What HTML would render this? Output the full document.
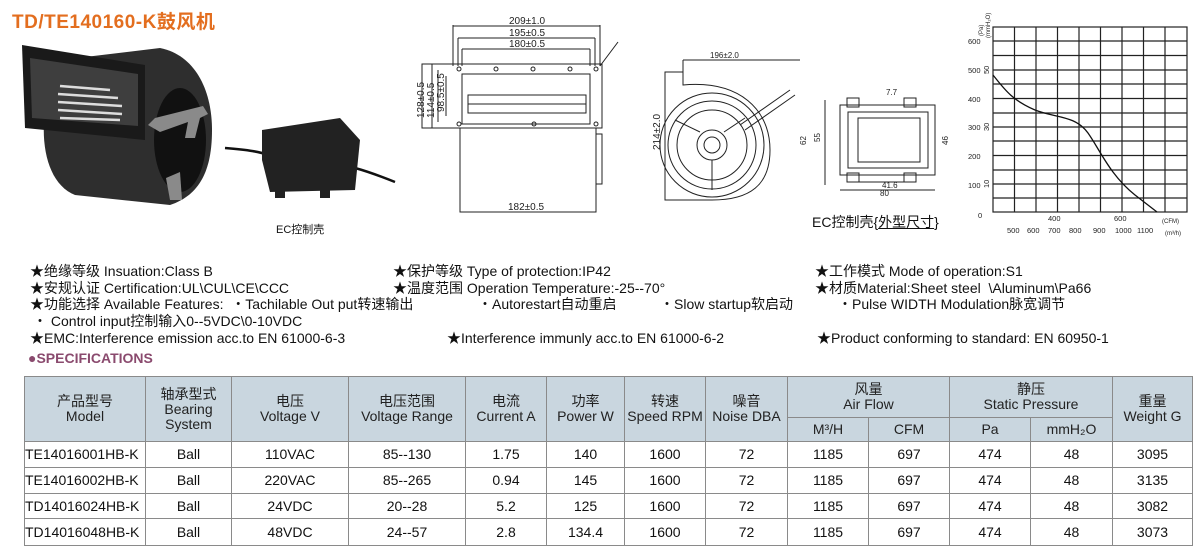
<!DOCTYPE html>
<html><head><meta charset="utf-8"><style>
body{margin:0;width:1199px;height:557px;background:#fff;position:relative;overflow:hidden;font-family:"Liberation Sans","Noto Sans CJK SC",sans-serif;color:#111}
.a{position:absolute;white-space:nowrap}
.t{font-size:14px;line-height:16px}
table{position:absolute;left:24px;top:376px;border-collapse:collapse;table-layout:fixed;font-size:14px}
td{border:1.5px solid #8a8a8a;text-align:center;padding:0;line-height:15px}
.h td{background:#c9d6df;color:#222}
</style></head><body>
<div class="a" style="left:12px;top:7px;font-size:19px;font-weight:bold;color:#e36e1f;letter-spacing:0.5px">TD/TE140160-K鼓风机</div>

<svg class="a" style="left:0;top:0" width="1199" height="250">
<!-- blower photo -->
<path d="M60 60 L160 48 C195 55 212 90 212 130 C212 170 200 195 170 205 L75 195 C50 185 40 150 45 110 Z" fill="#2e2e2e"/>
<path d="M22 45 L145 65 L145 140 L25 128 Z" fill="#1a1a1a"/>
<path d="M30 58 L138 74 L138 126 L32 118 Z" fill="#3e3e3e"/>
<g stroke="#ddd" stroke-width="2.5"><line x1="60" y1="86" x2="110" y2="90"/><line x1="58" y1="94" x2="118" y2="98"/><line x1="58" y1="102" x2="122" y2="106"/><line x1="58" y1="110" x2="122" y2="114"/><line x1="60" y1="118" x2="120" y2="120"/></g>
<ellipse cx="180" cy="140" rx="26" ry="52" fill="#111"/>
<path d="M148 125 L155 118 L203 106 L208 114 L200 118 L195 138 L185 138 L188 122 L160 132 Z" fill="#8a8a8a"/>
<path d="M166 178 L170 200 L182 200 L180 172 Z" fill="#8a8a8a"/>
<!-- controller -->
<path d="M225 148 C250 150 260 152 268 155" stroke="#111" stroke-width="2.5" fill="none"/>
<path d="M355 168 C370 172 385 178 395 182" stroke="#111" stroke-width="2.5" fill="none"/>
<path d="M262 130 L340 118 L360 140 L355 190 L270 192 L262 160 Z" fill="#222"/>
<rect x="275" y="188" width="10" height="10" fill="#222"/><rect x="320" y="188" width="10" height="10" fill="#222"/>
<!-- drawing 1 -->
<g stroke="#222" fill="none" stroke-width="1">
<rect x="422" y="64" width="180" height="64"/>
<rect x="460" y="128" width="136" height="84"/>
<line x1="453" y1="25" x2="453" y2="66"/><line x1="600" y1="25" x2="600" y2="66"/><line x1="453" y1="26" x2="600" y2="26"/>
<line x1="458" y1="38" x2="458" y2="66"/><line x1="595" y1="38" x2="595" y2="66"/><line x1="458" y1="38" x2="595" y2="38"/>
<line x1="462" y1="49" x2="462" y2="66"/><line x1="590" y1="49" x2="590" y2="66"/><line x1="462" y1="49" x2="590" y2="49"/>
<rect x="462" y="74" width="128" height="50"/>
<rect x="468" y="95" width="118" height="18"/><line x1="468" y1="104" x2="586" y2="104"/>
<line x1="432" y1="64" x2="432" y2="128"/><line x1="438" y1="70" x2="438" y2="122"/><line x1="446" y1="76" x2="446" y2="116"/>
<line x1="460" y1="212" x2="596" y2="212"/>
<line x1="600" y1="66" x2="618" y2="42"/>
<rect x="596" y="134" width="6" height="50"/>
<circle cx="459" cy="69" r="2"/><circle cx="496" cy="69" r="2"/><circle cx="533" cy="69" r="2"/><circle cx="570" cy="69" r="2"/><circle cx="596" cy="69" r="2"/>
<circle cx="459" cy="124" r="2"/><circle cx="534" cy="124" r="2"/><circle cx="596" cy="124" r="2"/>
<!-- drawing 2 -->
<path d="M665 72 L683 72 L683 85 C740 80 770 110 770 150 C770 185 750 200 712 200 L665 200 Z"/>
<line x1="683" y1="60" x2="800" y2="60"/><line x1="683" y1="60" x2="683" y2="72"/>
<circle cx="712" cy="145" r="52"/><circle cx="712" cy="145" r="44"/><circle cx="712" cy="145" r="35"/><circle cx="712" cy="145" r="15"/><circle cx="712" cy="145" r="8"/>
<path d="M740 125 L790 90 M745 130 L795 95"/>
<path d="M700 132 L675 120 M724 132 L745 118 M712 160 L712 190"/>
<rect x="840" y="105" width="95" height="70"/><rect x="848" y="112" width="80" height="56"/><rect x="858" y="118" width="62" height="44"/>
<line x1="825" y1="100" x2="825" y2="185"/><line x1="840" y1="190" x2="935" y2="190"/><line x1="848" y1="182" x2="905" y2="182"/>
<rect x="847" y="98" width="12" height="9"/><rect x="904" y="98" width="12" height="9"/><rect x="847" y="173" width="12" height="9"/><rect x="904" y="173" width="12" height="9"/>
</g>
<g font-size="10" fill="#222" font-family="Liberation Sans">
<text x="509" y="24">209±1.0</text><text x="509" y="36">195±0.5</text><text x="509" y="47">180±0.5</text>
<text x="508" y="210">182±0.5</text><text x="710" y="58" font-size="8">196±2.0</text>
<text x="886" y="95" font-size="8">7.7</text><text x="882" y="188" font-size="8">41.6</text><text x="880" y="196" font-size="8">80</text>
<text transform="translate(424,118) rotate(-90)">128±0.5</text><text transform="translate(434,118) rotate(-90)">114±0.5</text><text transform="translate(444,112) rotate(-90)">98.5±0.5</text>
<text transform="translate(660,150) rotate(-90)">214±2.0</text>
<text transform="translate(806,145) rotate(-90)" font-size="8">62</text><text transform="translate(820,142) rotate(-90)" font-size="8">55</text><text transform="translate(948,145) rotate(-90)" font-size="8">46</text>
</g>
<!-- chart -->
<g stroke="#222" stroke-width="1.2">
<rect x="993" y="27" width="194" height="185" fill="none"/>
<line x1="1014.5" y1="27" x2="1014.5" y2="212"/><line x1="1036" y1="27" x2="1036" y2="212"/><line x1="1057.5" y1="27" x2="1057.5" y2="212"/><line x1="1079" y1="27" x2="1079" y2="212"/><line x1="1100.5" y1="27" x2="1100.5" y2="212"/><line x1="1122" y1="27" x2="1122" y2="212"/><line x1="1143.5" y1="27" x2="1143.5" y2="212"/><line x1="1165" y1="27" x2="1165" y2="212"/>
<line x1="993" y1="41" x2="1187" y2="41"/><line x1="993" y1="55.5" x2="1187" y2="55.5"/><line x1="993" y1="70" x2="1187" y2="70"/><line x1="993" y1="84" x2="1187" y2="84"/><line x1="993" y1="98.5" x2="1187" y2="98.5"/><line x1="993" y1="113" x2="1187" y2="113"/><line x1="993" y1="127" x2="1187" y2="127"/><line x1="993" y1="141" x2="1187" y2="141"/><line x1="993" y1="155.5" x2="1187" y2="155.5"/><line x1="993" y1="170" x2="1187" y2="170"/><line x1="993" y1="184" x2="1187" y2="184"/><line x1="993" y1="198" x2="1187" y2="198"/>
</g>
<path d="M993 75 C1005 90 1012 100 1035 110 C1055 118 1075 115 1088 133 C1100 150 1110 175 1135 195 L1157 212" stroke="#111" stroke-width="1.3" fill="none"/>
<g font-size="7.5" fill="#222" font-family="Liberation Sans">
<text x="968" y="44">600</text><text x="968" y="73">500</text><text x="968" y="102">400</text><text x="968" y="130">300</text><text x="968" y="159">200</text><text x="968" y="188">100</text><text x="978" y="218">0</text>
<text x="1048" y="221">400</text><text x="1114" y="221">600</text><text x="1162" y="223" font-size="6">(CFM)</text>
<text x="1007" y="233">500</text><text x="1027" y="233">600</text><text x="1048" y="233">700</text><text x="1069" y="233">800</text><text x="1093" y="233">900</text><text x="1115" y="233">1000</text><text x="1137" y="233">1100</text><text x="1165" y="235" font-size="6">(m³/h)</text>
<text transform="translate(989,74) rotate(-90)">50</text><text transform="translate(989,131) rotate(-90)">30</text><text transform="translate(989,188) rotate(-90)">10</text>
<text transform="translate(983,36) rotate(-90)" font-size="6">(Pa)</text><text transform="translate(990,38) rotate(-90)" font-size="6">(mmH₂O)</text>
</g>
</svg>
<div class="a" style="left:276px;top:221px;font-size:11px">EC控制壳</div>
<div class="a" style="left:812px;top:212px;font-size:14px">EC控制壳{<u>外型尺寸</u>}</div>

<div class="a t" style="left:30px;top:263px">★绝缘等级 Insuation:Class B</div>
<div class="a t" style="left:393px;top:263px">★保护等级 Type of protection:IP42</div>
<div class="a t" style="left:815px;top:263px">★工作模式 Mode of operation:S1</div>
<div class="a t" style="left:30px;top:280px">★安规认证 Certification:UL\CUL\CE\CCC</div>
<div class="a t" style="left:393px;top:280px">★温度范围 Operation Temperature:-25--70°</div>
<div class="a t" style="left:815px;top:280px">★材质Material:Sheet steel &nbsp;\Aluminum\Pa66</div>
<div class="a t" style="left:30px;top:296px">★功能选择 Available Features: &nbsp;・Tachilable Out put转速输出</div>
<div class="a t" style="left:478px;top:296px">・Autorestart自动重启</div>
<div class="a t" style="left:660px;top:296px">・Slow startup软启动</div>
<div class="a t" style="left:838px;top:296px">・Pulse WIDTH Modulation脉宽调节</div>
<div class="a t" style="left:33px;top:313px">・ Control input控制输入0--5VDC\0-10VDC</div>
<div class="a t" style="left:30px;top:330px">★EMC:Interference emission acc.to EN 61000-6-3</div>
<div class="a t" style="left:447px;top:330px">★Interference immunly acc.to EN 61000-6-2</div>
<div class="a t" style="left:817px;top:330px">★Product conforming to standard: EN 60950-1</div>
<div class="a" style="left:28px;top:350px;font-size:14px;font-weight:bold;color:#8a4a6e">●SPECIFICATIONS</div>

<table>
<colgroup><col style="width:121px"><col style="width:86px"><col style="width:117px"><col style="width:117px"><col style="width:81px"><col style="width:78px"><col style="width:81px"><col style="width:82px"><col style="width:81px"><col style="width:81px"><col style="width:81px"><col style="width:82px"><col style="width:80px"></colgroup>
<tr class="h" style="height:41px"><td rowspan="2">产品型号<br>Model</td><td rowspan="2">轴承型式<br>Bearing<br>System</td><td rowspan="2">电压<br>Voltage V</td><td rowspan="2">电压范围<br>Voltage Range</td><td rowspan="2">电流<br>Current A</td><td rowspan="2">功率<br>Power W</td><td rowspan="2">转速<br>Speed RPM</td><td rowspan="2">噪音<br>Noise DBA</td><td colspan="2">风量<br>Air Flow</td><td colspan="2">静压<br>Static Pressure</td><td rowspan="2">重量<br>Weight G</td></tr>
<tr class="h" style="height:24px"><td>M³/H</td><td>CFM</td><td>Pa</td><td>mmH₂O</td></tr>
<tr style="height:26px"><td style="text-align:left">TE14016001HB-K</td><td>Ball</td><td>110VAC</td><td>85--130</td><td>1.75</td><td>140</td><td>1600</td><td>72</td><td>1185</td><td>697</td><td>474</td><td>48</td><td>3095</td></tr>
<tr style="height:26px"><td style="text-align:left">TE14016002HB-K</td><td>Ball</td><td>220VAC</td><td>85--265</td><td>0.94</td><td>145</td><td>1600</td><td>72</td><td>1185</td><td>697</td><td>474</td><td>48</td><td>3135</td></tr>
<tr style="height:25px"><td style="text-align:left">TD14016024HB-K</td><td>Ball</td><td>24VDC</td><td>20--28</td><td>5.2</td><td>125</td><td>1600</td><td>72</td><td>1185</td><td>697</td><td>474</td><td>48</td><td>3082</td></tr>
<tr style="height:27px"><td style="text-align:left">TD14016048HB-K</td><td>Ball</td><td>48VDC</td><td>24--57</td><td>2.8</td><td>134.4</td><td>1600</td><td>72</td><td>1185</td><td>697</td><td>474</td><td>48</td><td>3073</td></tr>
</table>
</body></html>
